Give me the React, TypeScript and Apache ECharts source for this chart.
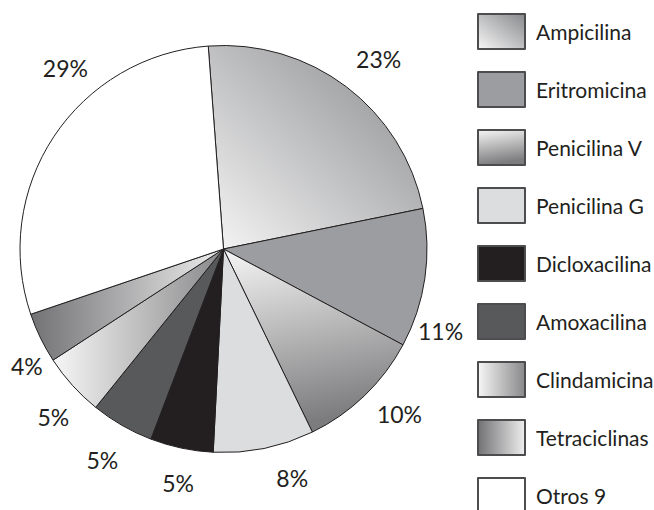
import React, { useEffect, useRef } from "react";
import * as echarts from "echarts";

// Antibiotic prescriptions, share of total (%)
const categories = [
  "Ampicilina",
  "Eritromicina",
  "Penicilina V",
  "Penicilina G",
  "Dicloxacilina",
  "Amoxacilina",
  "Clindamicina",
  "Tetraciclinas",
  "Otros 9",
];
const shares = [23, 11, 10, 8, 5, 5, 5, 4, 29];

// Label placement: angular turn (degrees) away from each slice's mid angle, and radial reach (px)
const labelTurn = [-2.2, -12.4, 3, 5.2, 0.9, 0, 2.5, 4.9, -15.3];
const labelReach = [245, 232, 241, 239, 238, 243, 239, 229, 240];

const ink = "#231f20";
const FONT = "Lato, 'Open Sans', sans-serif";

const grad = (x: number, y: number, x2: number, y2: number, a: string, b: string) =>
  new echarts.graphic.LinearGradient(x, y, x2, y2, [
    { offset: 0, color: a },
    { offset: 1, color: b },
  ]);

const fills = [
  grad(0, 1, 1, 0, "#f6f6f6", "#88898c"),
  "#9c9da0",
  grad(0, 0, 0.2, 1, "#f6f6f6", "#7c7c7e"),
  "#dcddde",
  "#231f20",
  "#58595b",
  grad(0, 0, 1, 0, "#f6f6f6", "#88888a"),
  grad(0, 0, 1, 0, "#727275", "#eeeeee"),
  "#ffffff",
];

const CX = 223.5;
const CY = 249;
const R = 203.5;
const START = 94.3;

export default function App() {
  const ref = useRef<HTMLDivElement>(null);

  useEffect(() => {
    if (!ref.current) return;
    const chart = echarts.init(ref.current, undefined, { renderer: "svg" });

    const total = shares.reduce((s, v) => s + v, 0);
    const midAngles: number[] = [];
    let acc = START;
    shares.forEach((v) => {
      const span = (v / total) * 360;
      midAngles.push(acc - span / 2);
      acc -= span;
    });

    chart.setOption({
      animation: false,
      backgroundColor: "#ffffff",
      legend: {
        orient: "vertical",
        left: 477,
        top: 13,
        padding: 0,
        itemWidth: 47,
        itemHeight: 35,
        itemGap: 21,
        icon: "rect",
        selectedMode: false,
        data: categories,
        itemStyle: { borderColor: "#4d4d4f", borderWidth: 2 },
        textStyle: {
          fontFamily: FONT,
          fontSize: 21,
          color: ink,
          padding: [0, 0, 7, 6],
        },
      },
      series: [
        {
          type: "pie",
          center: [CX, CY],
          radius: R,
          startAngle: START,
          clockwise: true,
          silent: true,
          avoidLabelOverlap: false,
          emphasis: { disabled: true },
          itemStyle: { borderColor: ink, borderWidth: 1 },
          label: {
            show: true,
            position: "inside",
            fontFamily: FONT,
            fontSize: 23,
            color: ink,
            formatter: (p: any) => `${p.value}%`,
          },
          labelLine: { show: false },
          labelLayout: (params: any) => {
            const i = params.dataIndex;
            const a = ((midAngles[i] + labelTurn[i]) * Math.PI) / 180;
            return {
              x: CX + labelReach[i] * Math.cos(a),
              y: CY - labelReach[i] * Math.sin(a),
              align: "center",
              verticalAlign: "middle",
            };
          },
          data: categories.map((name, i) => ({
            name,
            value: shares[i],
            itemStyle: { color: fills[i] },
          })),
        },
      ],
    });

    return () => chart.dispose();
  }, []);

  return (
    <div
      style={{
        position: "absolute",
        left: 0,
        top: 0,
        width: 654,
        height: 510,
        overflow: "hidden",
      }}
    >
      <div ref={ref} style={{ width: 654, height: 540 }} />
    </div>
  );
}
